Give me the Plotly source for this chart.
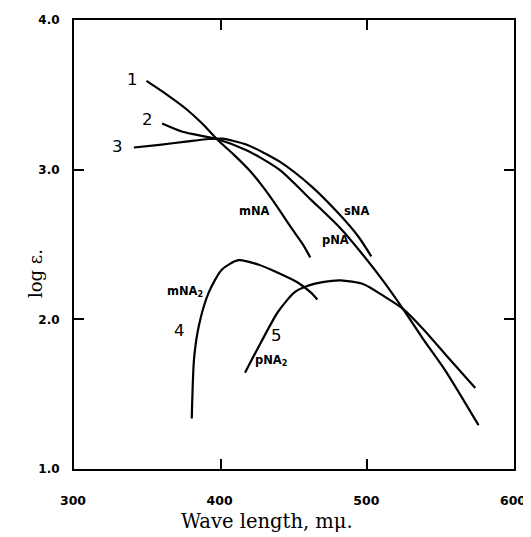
import plotly.graph_objects as go

# Curve data (wavelength m\u03bc, log epsilon)
# 1: mNA
c1_x = [349.4, 362.8, 376.3, 387.4, 397.3, 409.1, 419.9, 428.6, 438.7, 448.1, 455.6, 461.1]
c1_y = [3.593, 3.505, 3.407, 3.308, 3.205, 3.099, 2.993, 2.888, 2.750, 2.612, 2.507, 2.414]
# 2: pNA
c2_x = [360.1, 374.0, 397.3, 418.0, 440.0, 462.0, 481.0, 495.0, 510.8, 524.3, 537.7, 553.4, 575.8]
c2_y = [3.308, 3.253, 3.205, 3.128, 3.000, 2.795, 2.615, 2.455, 2.257, 2.070, 1.873, 1.654, 1.293]
# 3: sNA
c3_x = [340.8, 358.3, 376.3, 391.9, 401.0, 417.4, 440.0, 462.3, 480.3, 493.7, 502.7]
c3_y = [3.148, 3.166, 3.187, 3.205, 3.207, 3.168, 3.055, 2.885, 2.708, 2.555, 2.421]
# 4: mNA2
c4_x = [380.3, 381.9, 385.2, 391.9, 400.9, 412.1, 425.6, 439.0, 452.5, 461.4, 465.9]
c4_y = [1.337, 1.742, 1.961, 2.180, 2.333, 2.395, 2.366, 2.311, 2.246, 2.180, 2.132]
# 5: pNA2
c5_x = [416.6, 427.8, 439.0, 450.3, 458.1, 470.4, 481.7, 497.4, 510.8, 524.3, 537.7, 553.4, 573.6]
c5_y = [1.643, 1.852, 2.049, 2.180, 2.219, 2.250, 2.260, 2.235, 2.158, 2.070, 1.939, 1.764, 1.541]

# Curve labels
num_labels = ["1", "2", "3", "4", "5"]
num_x = [340.0, 350.4, 329.6, 371.6, 438.4]
num_y = [3.60, 3.336, 3.154, 1.923, 1.889]

name_labels = ["mNA", "sNA", "pNA", "mNA<sub>2</sub>", "pNA<sub>2</sub>"]
name_x = [423.0, 492.6, 478.0, 375.5, 434.0]
name_y = [2.726, 2.726, 2.528, 2.185, 1.722]

x_ticks = [300, 400, 500, 600]
x_tick_text = ["300", "400", "500", "600"]
y_ticks = [1.0, 2.0, 3.0, 4.0]
y_tick_text = ["1.0", "2.0", "3.0", "4.0"]

fig = go.Figure()
for xs, ys in [(c1_x, c1_y), (c2_x, c2_y), (c3_x, c3_y), (c4_x, c4_y), (c5_x, c5_y)]:
    fig.add_trace(go.Scatter(x=xs, y=ys, mode="lines",
                             line=dict(color="black", width=2.2, shape="spline", smoothing=0.7),
                             showlegend=False, hoverinfo="skip"))

for t, x, y in zip(num_labels, num_x, num_y):
    fig.add_annotation(x=x, y=y, xref="x", yref="y", text=t, showarrow=False,
                       font=dict(family="DejaVu Sans", size=16.5, color="black"))
for t, x, y in zip(name_labels, name_x, name_y):
    fig.add_annotation(x=x, y=y, xref="x", yref="y", text="<b>" + t + "</b>", showarrow=False,
                       font=dict(family="DejaVu Sans", size=11.5, color="black"))

fig.add_annotation(x=0.438, y=-0.118, xref="paper", yref="paper", yanchor="middle",
                   text="Wave length, m\u03bc.", showarrow=False,
                   font=dict(family="DejaVu Serif", size=19.5, color="black"))
fig.add_annotation(x=-0.1175, y=0.436, xref="paper", yref="paper", textangle=-90,
                   text="log \u03b5.", showarrow=False,
                   font=dict(family="DejaVu Serif", size=18, color="black"))

axis_common = dict(showline=True, linecolor="black", linewidth=2, mirror="ticks",
                   ticks="inside", ticklen=10, tickwidth=2, tickcolor="black",
                   showgrid=False, zeroline=False, ticklabeloverflow="allow")

fig.update_xaxes(range=[300, 600], tickvals=x_ticks, ticktext=x_tick_text,
                 ticklabelstandoff=19, ticklabelshift=-1,
                 tickfont=dict(family="DejaVu Sans", size=12.5, color="black", weight="bold"),
                 **axis_common)
fig.update_yaxes(range=[1.0, 4.0], tickvals=y_ticks, ticktext=y_tick_text,
                 ticklabelstandoff=10,
                 tickfont=dict(family="DejaVu Sans", size=12, color="black", weight="bold"),
                 **axis_common)

# the page body adds an 8px offset, so the figure is sized to fill the rest of the window
fig.update_layout(width=523, height=529, margin=dict(l=66, r=12, t=5, b=68),
                  plot_bgcolor="white", paper_bgcolor="white")

fig.write_html("out.html")
